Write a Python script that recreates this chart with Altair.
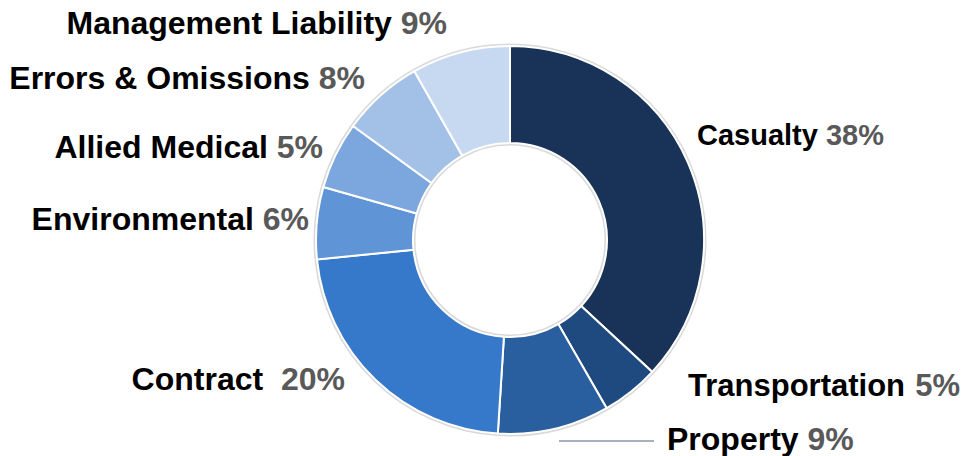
import altair as alt
import pandas as pd

# ---- data ----
categories = ["Casualty", "Transportation", "Property", "Contract",
              "Environmental", "Allied Medical", "Errors & Omissions",
              "Management Liability"]
shares = [36.9, 4.8, 9.3, 22.4, 6.0, 5.6, 6.8, 8.2]          # slice sizes
pct_labels = ["38%", "5%", "9%", "20%", "6%", "5%", "8%", "9%"]  # printed labels
label_sep = [" ", " ", " ", "  ", " ", " ", " ", " "]
colors = ["#183357", "#1F4A7F", "#2A5F9F", "#3679CA",
          "#5F94D6", "#7CA7DE", "#A3C1E7", "#C7D9F1"]

# ---- label layout (annotation anchors in plot pixels) ----
label_side = ["right", "right", "right", "left", "left", "left", "left", "left"]
label_x = [689, 680, 659, 337, 301, 315, 357, 439]
label_y = [136, 387, 441, 381, 221, 149, 80, 25]
label_fs = [29, 31, 32, 32, 32, 32, 32, 32]

# Arial / Liberation Sans Bold advance widths (1/1000 em)
ADV = {" ": 278, "&": 722, "%": 889, "A": 722, "C": 722, "E": 667, "L": 611,
       "M": 833, "O": 778, "P": 667, "T": 611, "a": 556, "b": 611, "c": 556,
       "d": 611, "e": 556, "g": 611, "i": 278, "l": 278, "m": 889, "n": 611,
       "o": 611, "p": 611, "r": 389, "s": 556, "t": 333, "u": 611, "v": 556,
       "y": 556}


def text_w(s, fs):
    return sum(ADV.get(ch, 556) for ch in s) * fs / 1000.0


W, H = 953, 448
CX, CY = 502, 231

name_x, pct_x = [], []
for c, s, p, side, x, fs in zip(categories, label_sep, pct_labels, label_side, label_x, label_fs):
    if side == "right":      # name left-aligned at anchor, pct follows
        name_x.append(x)
        pct_x.append(x + text_w(c + s, fs))
    else:                    # pct right-aligned at anchor, name before it
        pct_x.append(x)
        name_x.append(x - text_w(s + p, fs))

df = pd.DataFrame({
    "cat": categories,
    "share": shares,
    "idx": list(range(len(categories))),
    "pct": pct_labels,
    "side": label_side,
    "nx": name_x,
    "px": pct_x,
    "ly": label_y,
    "fs": label_fs,
})

base = alt.Chart(df)

color = alt.Color("cat:N", scale=alt.Scale(domain=categories, range=colors), legend=None)
theta = alt.Theta("share:Q", stack=True)
order = alt.Order("idx:Q")

shadow = base.mark_arc(innerRadius=94.5, outerRadius=196.5, color="#cfcfcf", opacity=0.8).encode(
    theta=theta, order=order, x=alt.value(CX), y=alt.value(CY)
)

donut = base.mark_arc(innerRadius=97, outerRadius=194, stroke="white", strokeWidth=2).encode(
    theta=theta, order=order, color=color, x=alt.value(CX), y=alt.value(CY)
)

txt_kw = dict(font="Liberation Sans", fontWeight="bold", baseline="alphabetic")
ypos = alt.Y("ly:Q", scale=None)
size = alt.Size("fs:Q", scale=None)
nxp = alt.X("nx:Q", scale=None)
pxp = alt.X("px:Q", scale=None)

right = base.transform_filter(alt.datum.side == "right")
left = base.transform_filter(alt.datum.side == "left")

names_r = right.mark_text(color="#000000", align="left", **txt_kw).encode(
    text="cat:N", x=nxp, y=ypos, size=size)
pcts_r = right.mark_text(color="#595959", align="left", **txt_kw).encode(
    text="pct:N", x=pxp, y=ypos, size=size)
names_l = left.mark_text(color="#000000", align="right", **txt_kw).encode(
    text="cat:N", x=nxp, y=ypos, size=size)
pcts_l = left.mark_text(color="#595959", align="right", **txt_kw).encode(
    text="pct:N", x=pxp, y=ypos, size=size)

leader = base.transform_filter(alt.datum.cat == "Property").mark_rule(
    color="#A7AFC0", strokeWidth=2).encode(
    x=alt.value(551), x2=alt.value(646), y=alt.value(432)
)

chart = alt.layer(shadow, donut, leader, names_r, pcts_r, names_l, pcts_l).properties(
    width=W, height=H, padding=0, background="white"
).configure_view(stroke=None)

chart.save("out.html", embed_options={"renderer": "svg", "actions": False})
